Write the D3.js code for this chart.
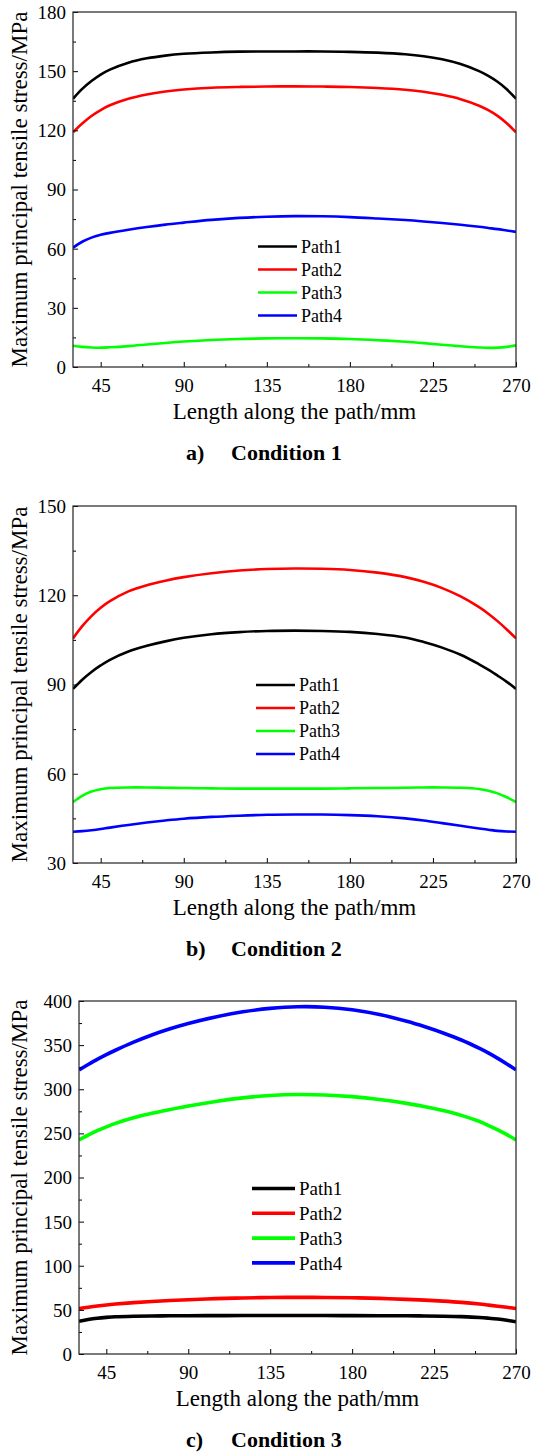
<!DOCTYPE html>
<html>
<head>
<meta charset="utf-8">
<script src="https://cdn.jsdelivr.net/npm/d3@7"></script>
<style>
  html, body { margin: 0; padding: 0; background: #fff; }
  svg { display: block; }
  text { font-family: "Liberation Serif", "Times New Roman", "DejaVu Serif", serif; fill: #000; }
</style>
</head>
<body>
<svg id="chart" width="534" height="1453"></svg>
<script>
// ---------- DATA ----------
const lengthMm = [30,35,40,45,50,60,70,80,90,105,120,135,150,165,180,195,210,220,230,240,250,255,260,265,270];
const seriesNames = ["Path1","Path2","Path3","Path4"];
const seriesColors = ["#000000","#ff0000","#00ff00","#0000ff"];
const xTickValues = [45,90,135,180,225,270];
const xMinorTicks = [67.5,112.5,157.5,202.5,247.5];

// Condition 1
const cond1Path1 = [136,141,145,148.3,150.8,154.3,156.5,157.9,158.8,159.5,159.9,160,160,160,159.8,159.4,158.6,157.6,156,153.6,150,147.6,144.6,140.8,136];
const cond1Path2 = [119,123.5,127.3,130.3,132.7,136,138.2,139.7,140.7,141.6,142,142.2,142.3,142.2,142,141.5,140.6,139.6,138,135.8,132.5,130.2,127.3,123.6,119];
const cond1Path3 = [10.8,10.2,9.9,9.8,10,10.6,11.4,12.2,12.9,13.7,14.2,14.5,14.6,14.5,14.2,13.6,12.8,12.1,11.3,10.5,9.9,9.7,9.8,10.2,11];
const cond1Path4 = [60.5,63.5,65.6,67,68,69.6,71,72.2,73.2,74.6,75.6,76.2,76.5,76.4,76,75.3,74.5,73.8,73,72.1,71.1,70.5,69.9,69.2,68.5];
const cond1YTicks = [0,30,60,90,120,150,180];
const cond1YMinor = [15,45,75,105,135,165];

// Condition 2
const cond2Path1 = [88.5,91.6,94.2,96.4,98.3,101.1,103,104.5,105.7,106.9,107.6,108,108.1,108,107.7,107,105.8,104.3,102.4,100,96.8,95,93,90.9,88.5];
const cond2Path2 = [105.5,109.6,113,115.8,118,121.3,123.4,124.9,126.1,127.4,128.3,128.8,129,128.9,128.5,127.6,126.1,124.5,122.4,119.6,116,113.8,111.3,108.5,105.5];
const cond2Path3 = [50.5,52.6,54,54.8,55.2,55.4,55.4,55.3,55.2,55.1,55,55,55,55,55.1,55.2,55.3,55.4,55.4,55.3,54.9,54.3,53.4,52.1,50.5];
const cond2Path4 = [40.5,40.7,41,41.4,41.9,42.8,43.6,44.3,44.9,45.5,45.9,46.2,46.3,46.3,46.1,45.7,45,44.3,43.4,42.5,41.6,41.2,40.8,40.6,40.5];
const cond2YTicks = [30,60,90,120,150];
const cond2YMinor = [45,75,105,135];

// Condition 3
const cond3Path1 = [37,39,40.5,41.5,42.2,42.8,43.1,43.3,43.4,43.5,43.6,43.6,43.6,43.6,43.5,43.4,43.3,43.1,42.8,42.3,41.4,40.6,39.6,38.2,36.5];
const cond3Path2 = [51.5,53,54.4,55.6,56.6,58.2,59.5,60.6,61.5,62.7,63.5,64,64.2,64.1,63.7,63,61.9,61,59.9,58.5,56.6,55.4,54.2,52.9,51.5];
const cond3Path3 = [242.5,248,253,257.4,261.3,267.6,272.7,277,281,286.2,290.2,292.9,294,293.5,291.6,288.4,284,280.2,275.8,270.4,263.4,258.9,254,248.6,242.5];
const cond3Path4 = [322,328,333.8,339.2,344.2,353.4,361.5,368.5,374.5,382,387.8,391.6,393.5,393,390,384.6,377,370.8,363.8,355.8,346.2,340.9,335,328.7,322];
const cond3YTicks = [0,50,100,150,200,250,300,350,400];
const cond3YMinor = [25,75,125,175,225,275,325,375];

const captionLetters = ["a)","b)","c)"];
const captionTexts = ["Condition 1","Condition 2","Condition 3"];
const xTitle = "Length along the path/mm";
const yTitle = "Maximum principal tensile stress/MPa";

// ---------- LAYOUT ----------
const FONT = '"Liberation Serif", "Times New Roman", "DejaVu Serif", serif';
const panels = [
  { series:[cond1Path1,cond1Path2,cond1Path3,cond1Path4], yDomain:[0,180], yTicks:cond1YTicks, yMinor:cond1YMinor,
    L:73, R:516, T:12, B:367, lw:2.6, legY:246.5, legStep:23, legX1:258, legX2:297, legTx:301, legFs:18 },
  { series:[cond2Path1,cond2Path2,cond2Path3,cond2Path4], yDomain:[30,150], yTicks:cond2YTicks, yMinor:cond2YMinor,
    L:73, R:516, T:506, B:863, lw:2.6, legY:685, legStep:23, legX1:256, legX2:295, legTx:299, legFs:18 },
  { series:[cond3Path1,cond3Path2,cond3Path3,cond3Path4], yDomain:[0,400], yTicks:cond3YTicks, yMinor:cond3YMinor,
    L:79, R:516, T:1001, B:1354, lw:3.6, legY:1188.5, legStep:24.8, legX1:252, legX2:295, legTx:299, legFs:19 }
];

const svg = d3.select("#chart");
svg.append("rect").attr("width",534).attr("height",1453).attr("fill","#fff");

panels.forEach((p, pi) => {
  const g = svg.append("g");
  const x = d3.scaleLinear().domain([30,270]).range([p.L, p.R]);
  const y = d3.scaleLinear().domain(p.yDomain).range([p.B, p.T]);

  const clipId = "clip" + pi;
  g.append("clipPath").attr("id", clipId).append("rect")
    .attr("x", p.L).attr("y", p.T - 4).attr("width", p.R - p.L).attr("height", p.B - p.T + 8);

  const line = d3.line().x((d,i) => x(lengthMm[i])).y(d => y(d)).curve(d3.curveCatmullRom.alpha(0.5));
  const order = [2,3,1,0];
  order.forEach(si => {
    g.append("path").datum(p.series[si])
      .attr("d", line).attr("fill","none")
      .attr("stroke", seriesColors[si]).attr("stroke-width", p.lw)
      .attr("clip-path", `url(#${clipId})`);
  });

  const xa = g.append("g").attr("transform", `translate(0,${p.B})`)
    .call(d3.axisBottom(x).tickValues(xTickValues).tickSizeInner(-5).tickSizeOuter(0).tickFormat(d3.format("d")));
  xa.attr("font-family", FONT);
  xa.select(".domain").remove();
  xa.selectAll("line").attr("stroke","#000").attr("stroke-width",1);
  xa.selectAll("text").attr("y", 25).attr("dy", null).attr("font-size", 19)
    .style("font-family", FONT).attr("fill","#000");
  const xm = g.append("g").attr("transform", `translate(0,${p.B})`)
    .call(d3.axisBottom(x).tickValues(xMinorTicks).tickSizeInner(-3).tickSizeOuter(0).tickFormat(""));
  xm.select(".domain").remove();
  xm.selectAll("line").attr("stroke","#000").attr("stroke-width",1);

  const ya = g.append("g").attr("transform", `translate(${p.L},0)`)
    .call(d3.axisLeft(y).tickValues(p.yTicks).tickSizeInner(-5).tickSizeOuter(0).tickPadding(7).tickFormat(d3.format("d")));
  ya.attr("font-family", FONT);
  ya.select(".domain").remove();
  ya.selectAll("line").attr("stroke","#000").attr("stroke-width",1);
  ya.selectAll("text").attr("font-size", 19).attr("dy","0.34em")
    .style("font-family", FONT).attr("fill","#000");
  const ym = g.append("g").attr("transform", `translate(${p.L},0)`)
    .call(d3.axisLeft(y).tickValues(p.yMinor).tickSizeInner(-3).tickSizeOuter(0).tickFormat(""));
  ym.select(".domain").remove();
  ym.selectAll("line").attr("stroke","#000").attr("stroke-width",1);

  g.append("rect").attr("x", p.L).attr("y", p.T).attr("width", p.R - p.L).attr("height", p.B - p.T)
    .attr("fill","none").attr("stroke","#222").attr("stroke-width",1.2);

  seriesNames.forEach((name, si) => {
    const ly = p.legY + si * p.legStep;
    g.append("line").attr("x1", p.legX1).attr("x2", p.legX2).attr("y1", ly).attr("y2", ly)
      .attr("stroke", seriesColors[si]).attr("stroke-width", p.lw);
    g.append("text").attr("x", p.legTx).attr("y", ly).attr("dy","0.35em")
      .attr("font-size", p.legFs).style("font-family", FONT).text(name);
  });

  g.append("text").attr("x", (p.L + p.R) / 2).attr("y", p.B + 52)
    .attr("text-anchor","middle").attr("font-size", 23).style("font-family", FONT).text(xTitle);
  g.append("text").attr("transform", `translate(27,${(p.T + p.B) / 2}) rotate(-90)`)
    .attr("text-anchor","middle").attr("font-size", 23).style("font-family", FONT).text(yTitle);

  g.append("text").attr("x", 186).attr("y", p.B + 93)
    .attr("font-size", 22).attr("font-weight","bold").style("font-family", FONT).text(captionLetters[pi]);
  g.append("text").attr("x", 231).attr("y", p.B + 93)
    .attr("font-size", 22).attr("font-weight","bold").style("font-family", FONT).text(captionTexts[pi]);
});
</script>
</body>
</html>
